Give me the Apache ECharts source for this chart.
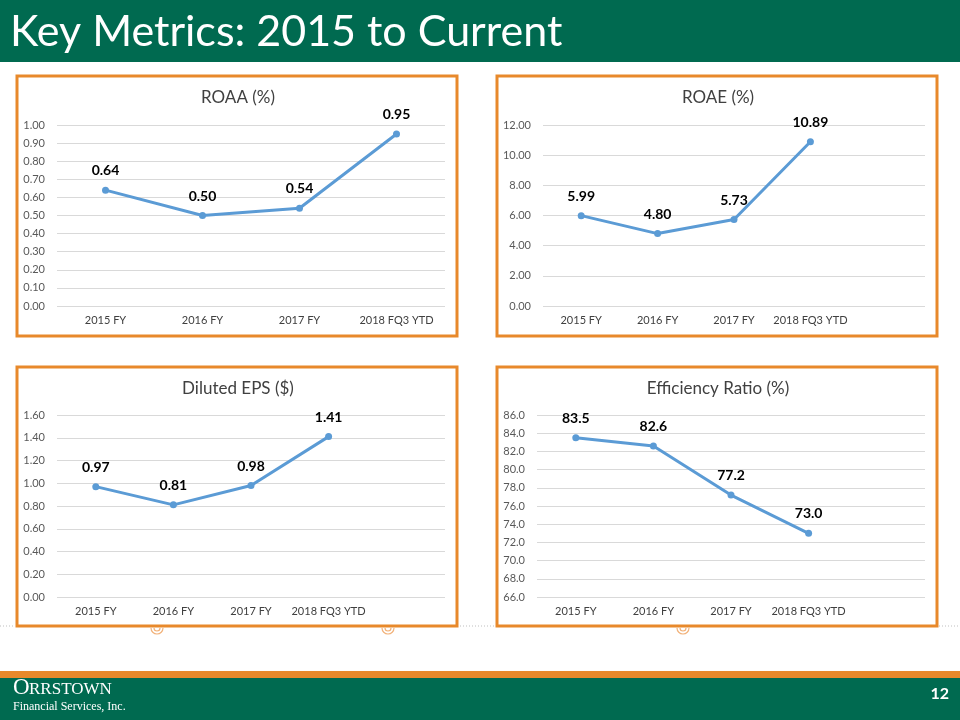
<!DOCTYPE html>
<html>
<head>
<meta charset="utf-8">
<script src="https://cdn.jsdelivr.net/npm/echarts@6/dist/echarts.min.js"></script>
<style>
  html, body { margin: 0; padding: 0; background: #ffffff; }
  #chart { width: 960px; height: 720px; }
</style>
</head>
<body>
<div id="chart"></div>
<script>
// ---- Data ----
const categoriesRoaa = ['2015 FY', '2016 FY', '2017 FY', '2018 FQ3 YTD'];
const categoriesOther = ['2015 FY', '2016 FY', '2017 FY', '2018 FQ3 YTD', ''];
const roaaValues = [0.64, 0.50, 0.54, 0.95];
const roaeValues = [5.99, 4.80, 5.73, 10.89];
const epsValues = [0.97, 0.81, 0.98, 1.41];
const efficiencyValues = [83.5, 82.6, 77.2, 73.0];
const chartTitles = ['ROAA (%)', 'ROAE (%)', 'Diluted EPS ($)', 'Efficiency Ratio (%)'];
const pageTitle = 'Key Metrics: 2015 to Current';
const pageNumber = '12';

// ---- Styles ----
const GREEN = '#006A50';
const ORANGE = '#E8892B';
const LINE = '#5B9BD5';
const FONT = 'Lato, "Open Sans", sans-serif';

const chart = echarts.init(document.getElementById('chart'), null, { renderer: 'canvas' });

const grids = [
  { left: 57, top: 125, width: 388, height: 181 },
  { left: 543, top: 125, width: 382, height: 181 },
  { left: 57, top: 415, width: 388, height: 182 },
  { left: 537, top: 415, width: 388, height: 182 }
];

const yDefs = [
  { min: 0, max: 1, interval: 0.1, dec: 2 },
  { min: 0, max: 12, interval: 2, dec: 2 },
  { min: 0, max: 1.6, interval: 0.2, dec: 2 },
  { min: 66, max: 86, interval: 2, dec: 1 }
];

const cats = [categoriesRoaa, categoriesOther, categoriesOther, categoriesOther];
const vals = [roaaValues, roaeValues, epsValues, efficiencyValues];

const xAxis = cats.map((c, i) => ({
  type: 'category', gridIndex: i, data: c, boundaryGap: true,
  axisLine: { show: false }, axisTick: { show: false },
  axisLabel: { color: '#404040', fontSize: 11, fontFamily: FONT, margin: 9, interval: 0 }
}));

const yAxis = yDefs.map((d, i) => ({
  type: 'value', gridIndex: i, min: d.min, max: d.max, interval: d.interval,
  axisLine: { show: false }, axisTick: { show: false },
  splitLine: { lineStyle: { color: '#D9D9D9', width: 1 } },
  axisLabel: { color: '#595959', fontSize: 11, fontFamily: FONT, margin: 12,
    formatter: v => v.toFixed(d.dec) }
}));

const series = vals.map((v, i) => ({
  type: 'line', xAxisIndex: i, yAxisIndex: i, data: v,
  symbol: 'circle', symbolSize: 7,
  lineStyle: { color: LINE, width: 3 },
  itemStyle: { color: LINE },
  label: { show: true, position: 'top', distance: 9, color: '#000', fontWeight: 'bold',
    fontSize: 14, fontFamily: FONT,
    formatter: p => p.value.toFixed(yDefs[i].dec === 1 ? 1 : 2) },
  animation: false
}));

const panels = [
  { x: 17, y: 76, w: 440, h: 260 },
  { x: 497, y: 76, w: 440, h: 260 },
  { x: 17, y: 367, w: 440, h: 259 },
  { x: 497, y: 367, w: 440, h: 259 }
];
const titlePos = [[238, 98], [718, 98], [238, 389], [718, 389]];

const graphic = [
  { type: 'rect', shape: { x: 0, y: 0, width: 960, height: 62 }, style: { fill: GREEN }, silent: true },
  { type: 'text', x: 10, y: 32, style: { text: pageTitle, fill: '#fff', fontSize: 43, fontFamily: FONT,
      textVerticalAlign: 'middle' }, silent: true },
  { type: 'rect', shape: { x: 0, y: 671, width: 960, height: 8 }, style: { fill: ORANGE }, silent: true },
  { type: 'rect', shape: { x: 0, y: 678, width: 960, height: 42 }, style: { fill: GREEN }, silent: true },
  { type: 'text', x: 13, y: 699, style: { text: 'O', fill: '#fff', fontSize: 23,
      fontFamily: '"Liberation Serif", serif', textVerticalAlign: 'bottom' }, silent: true },
  { type: 'text', x: 29, y: 698, style: { text: 'RRSTOWN', fill: '#fff', fontSize: 17,
      fontFamily: '"Liberation Serif", serif', textVerticalAlign: 'bottom' }, silent: true },
  { type: 'text', x: 13, y: 707, style: { text: 'Financial Services, Inc.', fill: '#fff', fontSize: 12,
      fontFamily: '"Liberation Serif", serif', textVerticalAlign: 'middle' }, silent: true },
  { type: 'text', x: 949, y: 694, style: { text: pageNumber, fill: '#fff', fontSize: 16, fontWeight: 'bold',
      fontFamily: FONT, textAlign: 'right', textVerticalAlign: 'middle' }, silent: true }
];

// dotted decorative lines
[[0, 15], [460, 495], [939, 960]].forEach(([a, b]) => {
  graphic.push({ type: 'line', shape: { x1: a, y1: 626, x2: b, y2: 626 },
    style: { stroke: '#BFBFBF', lineWidth: 1, lineDash: [1, 2] }, silent: true });
});
// small decorative arcs below panels
[[157, 628], [388, 628], [683, 628]].forEach(([cx, cy]) => {
  [6, 3].forEach(r => graphic.push({ type: 'arc', shape: { cx: cx, cy: cy, r: r, startAngle: 0, endAngle: Math.PI, clockwise: true },
    style: { stroke: '#F2B27A', lineWidth: 1.2, fill: null }, silent: true }));
});

panels.forEach(p => {
  graphic.push({ type: 'rect', shape: { x: p.x, y: p.y, width: p.w, height: p.h },
    style: { fill: 'none', stroke: ORANGE, lineWidth: 3 }, silent: true });
});
chartTitles.forEach((t, i) => {
  graphic.push({ type: 'text', x: titlePos[i][0], y: titlePos[i][1],
    style: { text: t, fill: '#404040', fontSize: 17, fontFamily: FONT,
      textAlign: 'center', textVerticalAlign: 'middle' }, silent: true });
});

chart.setOption({
  animation: false,
  backgroundColor: '#ffffff',
  grid: grids.map(g => Object.assign({ containLabel: false }, g)),
  xAxis: xAxis,
  yAxis: yAxis,
  series: series,
  graphic: graphic
});
</script>
</body>
</html>
